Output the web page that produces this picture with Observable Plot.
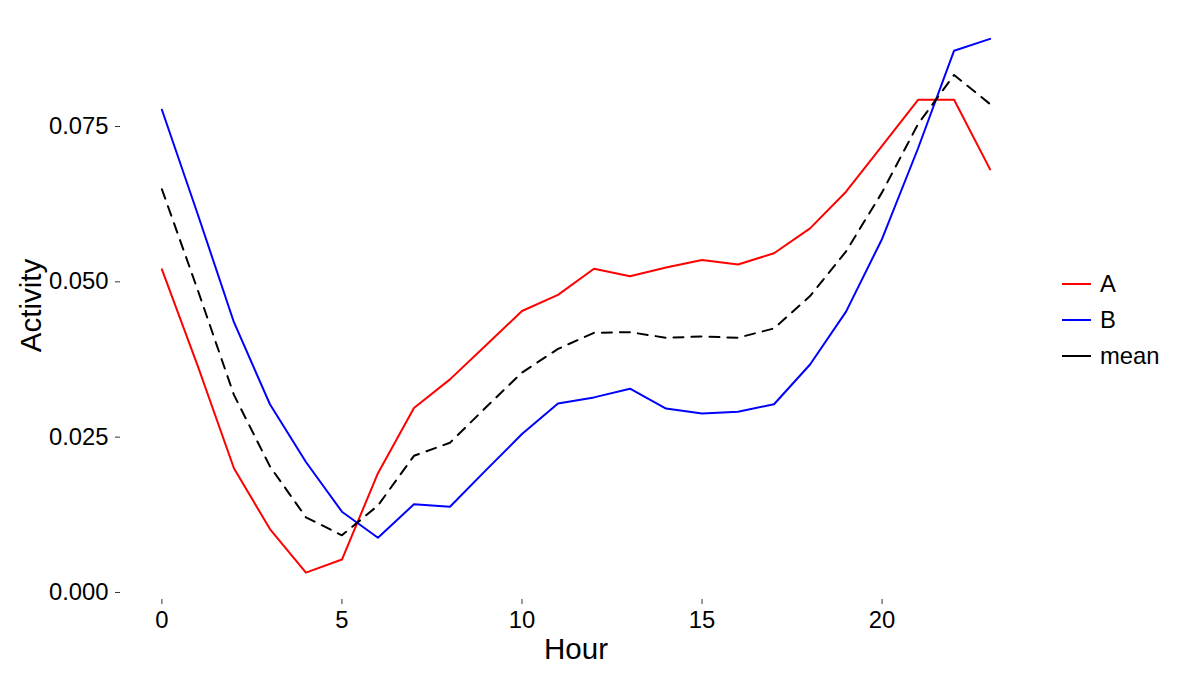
<!DOCTYPE html>
<html>
<head>
<meta charset="utf-8">
<script src="https://cdn.jsdelivr.net/npm/d3@7"></script>
<script src="https://cdn.jsdelivr.net/npm/@observablehq/plot@0.6"></script>
<style>
  html, body { margin: 0; padding: 0; background: #fff; }
  #wrap { position: relative; width: 1200px; height: 675px; font-family: "Liberation Sans", Arial, sans-serif; }
  #legend { position: absolute; left: 1062px; top: 266px; }
  .item { display: flex; align-items: center; height: 36.2px; font-size: 23.8px; color: #000; }
  .key { width: 29px; height: 2px; margin-right: 9px; }
</style>
</head>
<body>
<div id="wrap"><div id="legend"></div></div>
<script>
const hours = d3.range(0, 24);
const seriesA = [0.0520, 0.0364, 0.0200, 0.0102, 0.0032, 0.0053, 0.0192, 0.0297, 0.0343, 0.0398, 0.0453, 0.0479,
                 0.0521, 0.0509, 0.0523, 0.0535, 0.0528, 0.0546, 0.0586, 0.0645, 0.0719, 0.0793, 0.0793, 0.0681];
const seriesB = [0.0777, 0.0608, 0.0435, 0.0303, 0.0210, 0.0130, 0.0088, 0.0142, 0.0138, 0.0197, 0.0255, 0.0304,
                 0.0314, 0.0328, 0.0296, 0.0288, 0.0291, 0.0303, 0.0367, 0.0452, 0.0569, 0.0715, 0.0872, 0.0891];
const seriesMean = [0.0649, 0.0486, 0.0318, 0.0203, 0.0121, 0.0092, 0.0140, 0.0220, 0.0241, 0.0298, 0.0354, 0.0392,
                    0.0418, 0.0419, 0.0410, 0.0412, 0.0410, 0.0425, 0.0477, 0.0549, 0.0644, 0.0754, 0.0833, 0.0786];
const yTicks = [0, 0.025, 0.05, 0.075];
const xTicks = [0, 5, 10, 15, 20];
const seriesNames = ["A", "B", "mean"];
const seriesColors = ["#ff0000", "#0000ff", "#000000"];

const toRows = (vals) => hours.map((h, i) => ({hour: h, value: vals[i]}));
const rowsA = toRows(seriesA), rowsB = toRows(seriesB), rowsM = toRows(seriesMean);

const chart = Plot.plot({
  width: 1200,
  height: 675,
  marginLeft: 120,
  marginRight: 169,
  marginTop: 11,
  marginBottom: 76,
  style: {fontFamily: "Liberation Sans, Arial, sans-serif", fontSize: "23.6px", color: "#000", background: "#fff"},
  x: {domain: [-1.15, 24.15]},
  y: {domain: [-0.00113, 0.09351]},
  marks: [
    Plot.axisY({ticks: yTicks, tickFormat: d3.format(".3f"), tickSize: 5, tickPadding: 7, label: null, stroke: "#333", fill: "#000", fontSize: 23.8}),
    Plot.axisX({ticks: xTicks, tickFormat: d3.format("d"), tickSize: 5, tickPadding: 6.5, label: null, stroke: "#333", fill: "#000", fontSize: 23.8}),
    Plot.line(rowsA, {x: "hour", y: "value", stroke: seriesColors[0], strokeWidth: 2}),
    Plot.line(rowsB, {x: "hour", y: "value", stroke: seriesColors[1], strokeWidth: 2}),
    Plot.line(rowsM, {x: "hour", y: "value", stroke: seriesColors[2], strokeWidth: 2, strokeDasharray: "10,8"}),
    Plot.text(["Hour"], {frameAnchor: "bottom", dy: 59, fontSize: 29.5, fill: "#000", textAnchor: "middle", lineAnchor: "bottom"}),
    Plot.text(["Activity"], {frameAnchor: "left", dx: -80, rotate: -90, fontSize: 29.5, fill: "#000", textAnchor: "middle", lineAnchor: "bottom"})
  ]
});
const wrap = document.getElementById("wrap");
wrap.insertBefore(chart, wrap.firstChild);

const legend = document.getElementById("legend");
seriesNames.forEach((name, i) => {
  const item = document.createElement("div");
  item.className = "item";
  const key = document.createElement("span");
  key.className = "key";
  key.style.background = seriesColors[i];
  const label = document.createElement("span");
  label.textContent = name;
  item.appendChild(key);
  item.appendChild(label);
  legend.appendChild(item);
});
</script>
</body>
</html>
